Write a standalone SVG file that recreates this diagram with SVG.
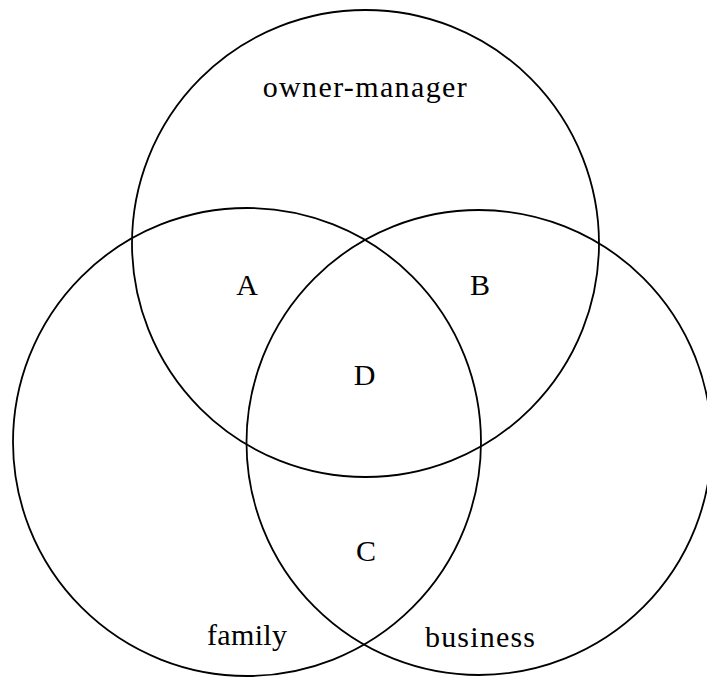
<svg xmlns="http://www.w3.org/2000/svg" width="707" height="677" viewBox="0 0 707 677">
<style>
.c{fill:none;stroke:#000;stroke-width:1.8}
.t{font-family:"Liberation Serif","Times New Roman",serif;font-size:30px;fill:#000;text-anchor:middle}
</style>
<rect width="707" height="677" fill="#fff"/>
<g id="owner-manager">
<circle class="c" cx="365.5" cy="243.5" r="233.5"/>
<text class="t" x="364.7" y="96.7" textLength="204">owner-manager</text>
</g>
<g id="family">
<circle class="c" cx="247" cy="442" r="234"/>
<text class="t" x="247" y="645" textLength="80">family</text>
</g>
<g id="business">
<circle class="c" cx="479" cy="442.5" r="232.5"/>
<text class="t" x="480" y="646.5" textLength="110">business</text>
</g>
<g id="regions">
<text class="t" x="247" y="295">A</text>
<text class="t" x="480" y="295">B</text>
<text class="t" x="364.5" y="385">D</text>
<text class="t" x="366" y="561">C</text>
</g>
<g id="connectors"></g>
</svg>
